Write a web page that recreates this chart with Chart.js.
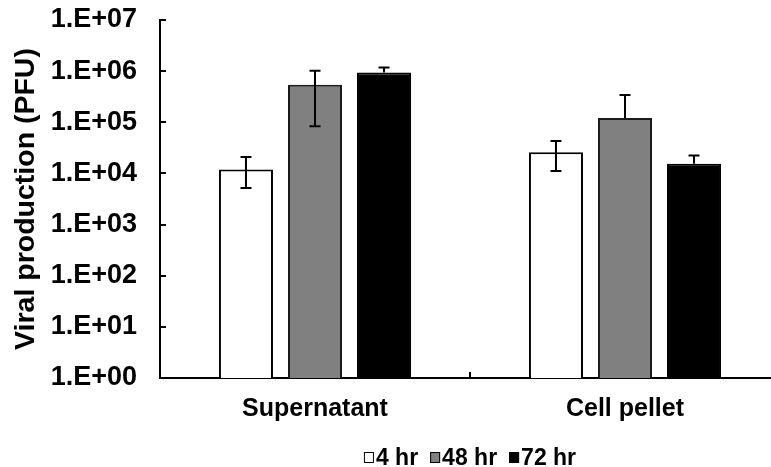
<!DOCTYPE html>
<html><head><meta charset="utf-8">
<script src="https://cdn.jsdelivr.net/npm/chart.js@4/dist/chart.umd.min.js"></script>
<style>
html,body{margin:0;padding:0;overflow:hidden;background:#fff}
#wrap{position:relative;width:781px;height:467px}
</style>
</head><body>
<div id="wrap"><canvas id="c"></canvas></div>
<script>
const categories = ['Supernatant', 'Cell pellet'];
const seriesLabels = ['4 hr', '48 hr', '72 hr'];
const values4hr  = [12000, 26000];
const values48hr = [540000, 121000];
const values72hr = [940000, 15400];
const errUpper4hr  = [21000, 43000];
const errLower4hr  = [5200, 11200];
const errUpper48hr = [1020000, 340000];
const errLower48hr = [84000, null];
const errUpper72hr = [1180000, 22400];
const errLower72hr = [null, null];
const yTickValues = [1, 10, 100, 1000, 10000, 100000, 1000000, 10000000];
const yTickLabels = ['1.E+00','1.E+01','1.E+02','1.E+03','1.E+04','1.E+05','1.E+06','1.E+07'];
const yTitle = 'Viral production (PFU)';

const FONT = '"Liberation Sans", Arial, sans-serif';

const errorBarPlugin = {
  id: 'errorBars',
  afterDatasetsDraw(chart) {
    const ctx = chart.ctx, y = chart.scales.y;
    chart.data.datasets.forEach((ds, di) => {
      const meta = chart.getDatasetMeta(di);
      meta.data.forEach((bar, i) => {
        const up = ds.errUpper[i], lo = ds.errLower[i];
        const yTop = y.getPixelForValue(up);
        const yBot = lo == null ? bar.y : y.getPixelForValue(lo);
        ctx.save();
        ctx.strokeStyle = '#000'; ctx.lineWidth = 2;
        ctx.beginPath();
        ctx.moveTo(bar.x, yTop); ctx.lineTo(bar.x, yBot);
        ctx.moveTo(bar.x - 5.5, yTop); ctx.lineTo(bar.x + 5.5, yTop);
        if (lo != null) { ctx.moveTo(bar.x - 5.5, yBot); ctx.lineTo(bar.x + 5.5, yBot); }
        ctx.stroke();
        ctx.restore();
      });
    });
  }
};

const inwardTicksPlugin = {
  id: 'inwardTicks',
  afterDraw(chart) {
    const ctx = chart.ctx, y = chart.scales.y, x = chart.scales.x, a = chart.chartArea;
    ctx.save();
    ctx.strokeStyle = '#000'; ctx.lineWidth = 2;
    ctx.beginPath();
    yTickValues.forEach(v => {
      const py = Math.round(y.getPixelForValue(v));
      ctx.moveTo(a.left, py); ctx.lineTo(a.left + 6, py);
    });
    const step = x.getPixelForValue(1) - x.getPixelForValue(0);
    for (let i = 0; i <= categories.length; i++) {
      const px = Math.round(x.getPixelForValue(0) - step / 2 + i * step);
      ctx.moveTo(px, a.bottom); ctx.lineTo(px, a.bottom - 6);
    }
    ctx.stroke();
    ctx.restore();
  }
};

const customLegendPlugin = {
  id: 'customLegend',
  afterDraw(chart) {
    const ctx = chart.ctx, a = chart.chartArea;
    ctx.save();
    ctx.font = 'bold 23px ' + FONT;
    const boxW = 10, boxH = 11, gapBT = 2, gapItem = 12;
    const items = chart.data.datasets.map(ds => ({label: ds.label, fill: ds.backgroundColor, w: ctx.measureText(ds.label).width}));
    let total = 0;
    items.forEach((it, i) => { total += boxW + gapBT + it.w + (i < items.length - 1 ? gapItem : 0); });
    let cx = (a.left + a.right) / 2 - total / 2;
    const cy = 457.5;
    ctx.textBaseline = 'middle';
    ctx.textAlign = 'left';
    items.forEach(it => {
      ctx.fillStyle = it.fill;
      ctx.fillRect(cx, cy - boxH / 2, boxW, boxH);
      ctx.strokeStyle = '#000'; ctx.lineWidth = 1;
      ctx.strokeRect(cx + 0.5, cy - boxH / 2 + 0.5, boxW - 1, boxH - 1);
      ctx.fillStyle = '#000';
      ctx.fillText(it.label, cx + boxW + gapBT, cy + 1);
      cx += boxW + gapBT + it.w + gapItem;
    });
    ctx.restore();
  }
};

new Chart(document.getElementById('c'), {
  type: 'bar',
  data: {
    labels: categories,
    datasets: [
      {label: seriesLabels[0], data: values4hr, errUpper: errUpper4hr, errLower: errLower4hr,
       backgroundColor: '#ffffff', borderColor: '#000000', borderWidth: 2},
      {label: seriesLabels[1], data: values48hr, errUpper: errUpper48hr, errLower: errLower48hr,
       backgroundColor: '#808080', borderColor: '#1a1a1a', borderWidth: 2},
      {label: seriesLabels[2], data: values72hr, errUpper: errUpper72hr, errLower: errLower72hr,
       backgroundColor: '#000000', borderColor: '#000000', borderWidth: 2}
    ]
  },
  options: {
    responsive: true,
    maintainAspectRatio: false,
    devicePixelRatio: 1,
    animation: false,
    categoryPercentage: 0.668,
    barPercentage: 0.7826,
    layout: {padding: {left: 12, top: 20, right: 1, bottom: 43}},
    plugins: {legend: {display: false}, tooltip: {enabled: false}},
    scales: {
      x: {
        type: 'category',
        offset: true,
        grid: {display: false, drawTicks: false},
        border: {display: true, color: '#000', width: 2},
        ticks: {color: '#000', font: {family: FONT, size: 25, weight: 'bold'}, padding: 16, maxRotation: 0},
        afterFit: (s) => { s.height = 46; s.paddingLeft = 0; s.paddingRight = 0; }
      },
      y: {
        type: 'logarithmic',
        min: 1,
        max: 10000000,
        grid: {display: false, drawTicks: false},
        border: {display: true, color: '#000', width: 2},
        afterBuildTicks: (scale) => { scale.ticks = yTickValues.map(v => ({value: v})); },
        afterFit: (s) => { s.width = 148; s.paddingTop = 0; s.paddingBottom = 0; },
        ticks: {
          color: '#000',
          font: {family: FONT, size: 27, weight: 'bold'},
          padding: 23,
          autoSkip: false,
          callback: (value, index) => yTickLabels[index]
        },
        title: {
          display: true,
          text: yTitle,
          color: '#000',
          font: {family: FONT, size: 28.5, weight: 'bold', lineHeight: 1},
          padding: {top: 0, bottom: 11}
        }
      }
    }
  },
  plugins: [errorBarPlugin, inwardTicksPlugin, customLegendPlugin]
});
</script>
</body></html>
